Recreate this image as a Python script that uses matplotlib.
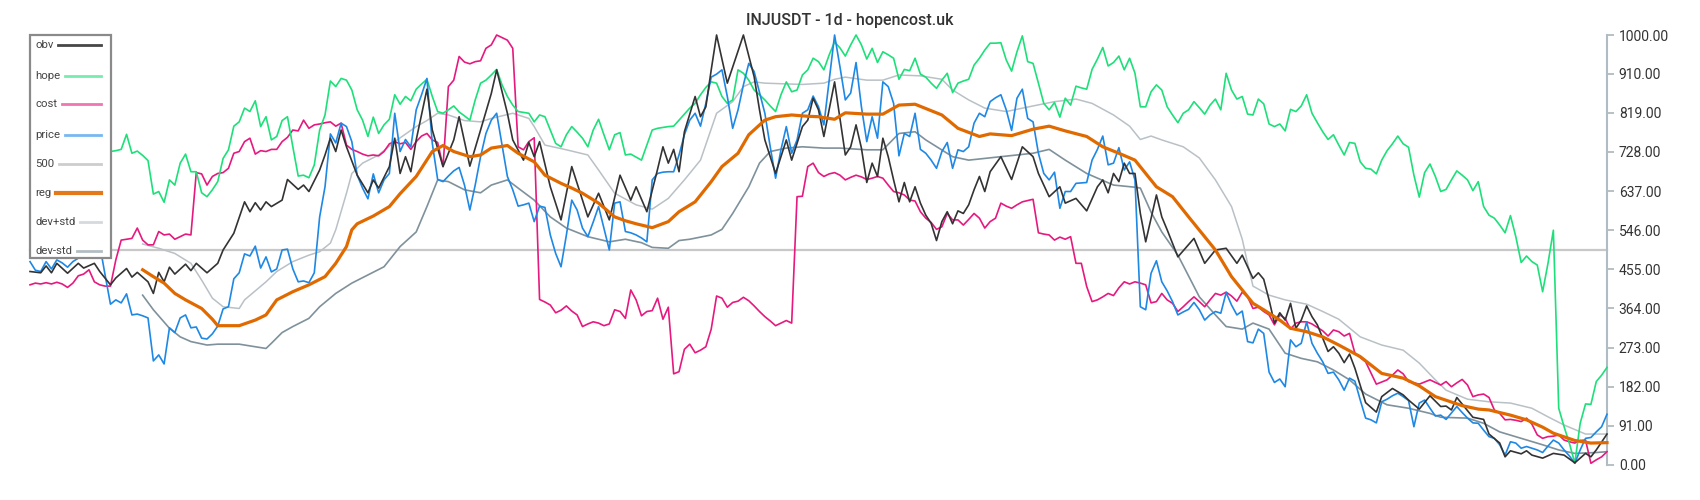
import matplotlib
matplotlib.use('Agg')
import matplotlib.pyplot as plt
from matplotlib.patches import Rectangle
from matplotlib.lines import Line2D
import numpy as np

plt.rcParams['font.family'] = ['Roboto', 'DejaVu Sans']

title = "INJUSDT - 1d - hopencost.uk"
y_ticks = [0, 91, 182, 273, 364, 455, 546, 637, 728, 819, 910, 1000]
level = 500

# daily series, one value per day
price = [
    473, 453, 450, 473, 456, 477, 470, 460, 473, 481,
    484, 488, 500, 512, 442, 374, 384, 377, 398, 349,
    351, 347, 342, 242, 256, 235, 319, 308, 342, 349,
    319, 321, 295, 293, 305, 323, 363, 368, 433, 447,
    491, 486, 509, 458, 484, 449, 456, 500, 502, 456,
    426, 428, 424, 447, 577, 647, 770, 749, 795, 787,
    752, 674, 644, 619, 677, 633, 663, 678, 818, 729,
    757, 740, 826, 861, 899, 748, 664, 659, 672, 684,
    692, 651, 593, 651, 717, 771, 802, 818, 744, 671,
    640, 602, 605, 609, 566, 602, 599, 535, 492, 461,
    535, 616, 593, 551, 531, 565, 601, 551, 500, 609,
    612, 543, 540, 535, 528, 519, 663, 678, 681, 682,
    682, 721, 768, 802, 818, 788, 841, 902, 909, 919,
    857, 783, 826, 884, 934, 915, 867, 818, 740, 667,
    733, 787, 725, 756, 818, 826, 858, 833, 791, 895,
    1000, 926, 849, 865, 936, 833, 752, 810, 760, 891,
    880, 841, 719, 771, 764, 818, 734, 725, 709, 690,
    729, 750, 690, 733, 729, 740, 795, 818, 810, 845,
    854, 861, 826, 778, 853, 874, 806, 798, 725, 678,
    663, 681, 597, 636, 636, 655, 656, 657, 709, 734,
    765, 698, 702, 738, 686, 705, 663, 368, 361, 446,
    475, 426, 405, 380, 349, 356, 362, 378, 361, 337,
    349, 357, 353, 401, 372, 349, 358, 287, 284, 316,
    306, 216, 192, 200, 182, 291, 275, 283, 333, 283,
    260, 240, 213, 216, 198, 174, 202, 195, 151, 109,
    105, 98, 147, 153, 161, 167, 159, 150, 89, 144,
    151, 132, 114, 116, 106, 121, 136, 122, 109, 98,
    97, 81, 66, 62, 47, 23, 54, 51, 39, 43,
    39, 35, 29, 44, 58, 51, 35, 21, 4, 35,
    62, 64, 77, 89, 118,
]

hope = [
    690, 700, 680, 710, 720, 700, 690, 720, 730, 710,
    700, 720, 740, 730, 720, 729, 731, 734, 769, 725,
    730, 720, 708, 630, 636, 611, 663, 651, 702, 723,
    682, 682, 633, 624, 640, 659, 713, 733, 788, 798,
    830, 822, 847, 787, 810, 756, 764, 801, 810, 740,
    672, 674, 668, 698, 779, 814, 893, 880, 899, 895,
    872, 826, 802, 764, 809, 771, 791, 804, 861, 839,
    857, 847, 874, 886, 897, 857, 822, 818, 826, 835,
    821, 812, 802, 849, 888, 895, 907, 920, 884, 857,
    837, 822, 820, 818, 798, 814, 810, 779, 748, 740,
    768, 787, 774, 760, 740, 779, 804, 768, 733, 768,
    773, 721, 723, 716, 709, 744, 779, 783, 785, 787,
    788, 802, 816, 830, 841, 861, 878, 891, 888, 857,
    841, 849, 919, 911, 895, 872, 861, 849, 835, 822,
    861, 891, 868, 872, 907, 919, 946, 938, 919, 954,
    984, 970, 951, 977, 1000, 977, 944, 969, 936, 961,
    954, 946, 897, 920, 917, 946, 909, 902, 888, 876,
    895, 911, 866, 888, 893, 897, 930, 946, 965, 981,
    981, 982, 942, 916, 961, 998, 938, 934, 888, 841,
    826, 843, 809, 853, 837, 881, 877, 874, 920, 944,
    971, 928, 936, 951, 919, 946, 911, 833, 833, 868,
    884, 872, 833, 814, 796, 818, 826, 845, 831, 816,
    837, 851, 826, 911, 872, 851, 857, 816, 814, 851,
    840, 793, 787, 793, 777, 827, 822, 835, 861, 818,
    796, 775, 757, 768, 744, 721, 750, 748, 705, 690,
    688, 677, 709, 731, 747, 765, 747, 739, 674, 623,
    680, 700, 671, 636, 641, 663, 684, 674, 663, 638,
    659, 601, 581, 574, 558, 540, 580, 531, 471, 486,
    473, 465, 403, 469, 546, 132, 89, 50, 4, 97,
    142, 141, 194, 209, 227,
]

cost = [
    419, 423, 421, 424, 421, 425, 421, 413, 423, 440,
    444, 454, 426, 419, 416, 416, 477, 523, 525, 527,
    551, 523, 512, 512, 543, 535, 537, 525, 531, 537,
    535, 680, 677, 651, 671, 678, 680, 690, 725, 729,
    752, 760, 723, 731, 729, 734, 734, 752, 762, 779,
    777, 802, 783, 791, 793, 796, 798, 788, 795, 744,
    734, 729, 723, 719, 721, 719, 729, 747, 752, 747,
    750, 734, 752, 765, 771, 756, 750, 694, 880, 895,
    950, 937, 933, 938, 940, 969, 977, 1000, 994, 988,
    969, 740, 733, 752, 761, 385, 379, 372, 354, 360,
    370, 358, 349, 322, 328, 333, 330, 324, 328, 361,
    357, 341, 407, 384, 347, 357, 359, 388, 339, 367,
    212, 217, 269, 281, 261, 267, 275, 316, 393, 388,
    367, 378, 381, 390, 382, 370, 357, 345, 335, 324,
    330, 336, 330, 624, 625, 694, 702, 680, 671, 677,
    680, 674, 663, 669, 674, 670, 664, 667, 671, 667,
    651, 636, 633, 628, 616, 614, 589, 574, 564, 548,
    554, 585, 570, 570, 558, 571, 585, 574, 551, 566,
    574, 609, 602, 597, 605, 612, 615, 618, 540, 537,
    535, 523, 530, 525, 531, 469, 469, 415, 380, 384,
    391, 399, 394, 412, 426, 421, 426, 423, 419, 377,
    380, 399, 384, 376, 357, 368, 380, 391, 380, 368,
    384, 399, 395, 402, 393, 381, 402, 391, 364, 367,
    357, 349, 326, 349, 341, 316, 330, 333, 333, 328,
    320, 312, 300, 314, 310, 300, 306, 260, 250, 240,
    214, 188, 193, 198, 209, 221, 212, 194, 191, 188,
    193, 198, 192, 186, 194, 182, 191, 199, 186, 159,
    163, 165, 157, 128, 120, 105, 106, 104, 101, 109,
    95, 70, 62, 66, 67, 70, 58, 54, 51, 57,
    58, 4, 12, 19, 31,
]

# obv read at its turning points
obv_day = [0, 2, 3, 4, 5, 7, 9, 10, 12, 13, 15, 16, 18, 19, 20, 22, 23, 24, 25, 26,
           27, 29, 30, 31, 33, 35, 36, 38, 40, 41, 42, 43, 44, 45, 47, 48, 50, 51, 52, 54,
           55, 56, 57, 58, 59, 61, 63, 64, 65, 67, 68, 69, 70, 71, 72, 74, 75, 77, 79, 80,
           82, 84, 86, 87, 89, 90, 92, 93, 94, 95, 97, 99, 101, 103, 104, 106, 108, 110, 112, 113,
           115, 117, 118, 119, 120, 121, 122, 124, 125, 126, 127, 128, 130, 133, 135, 136, 137, 139, 141, 142,
           144, 145, 146, 147, 148, 150, 152, 153, 154, 155, 156, 157, 158, 159, 160, 161, 162, 163, 164, 165,
           166, 167, 168, 169, 170, 171, 172, 173, 174, 175, 176, 177, 178, 179, 181, 183, 185, 187, 188, 190,
           192, 193, 195, 197, 199, 200, 201, 202, 203, 204, 205, 206, 207, 208, 210, 211, 212, 214, 217, 219,
           221, 223, 225, 226, 228, 229, 230, 231, 232, 233, 234, 235, 236, 237, 238, 239, 240, 242, 243, 244,
           245, 246, 247, 249, 251, 252, 254, 256, 257, 259, 261, 263, 264, 265, 266, 269, 271, 272, 274, 275,
           276, 278, 279, 280, 282, 284, 286, 288, 290, 291, 292, 294]
obv_val = [450, 447, 463, 447, 469, 446, 469, 458, 469, 450, 419, 435, 457, 437, 448, 426, 399, 448, 426, 460,
           444, 467, 452, 469, 447, 469, 500, 539, 612, 589, 610, 593, 612, 601, 616, 664, 641, 651, 636, 686,
           721, 760, 729, 779, 740, 674, 633, 663, 644, 694, 760, 678, 717, 682, 756, 874, 779, 694, 756, 810,
           695, 779, 864, 919, 818, 756, 709, 750, 717, 752, 647, 570, 694, 616, 577, 632, 570, 674, 616, 647,
           589, 688, 740, 702, 734, 682, 775, 857, 810, 833, 919, 1000, 888, 1000, 903, 826, 756, 678, 756, 709,
           787, 802, 853, 826, 764, 891, 721, 740, 791, 737, 657, 702, 671, 760, 717, 663, 612, 657, 612, 647,
           609, 581, 562, 522, 566, 589, 561, 591, 585, 605, 640, 671, 636, 682, 717, 664, 740, 717, 678, 624,
           647, 609, 620, 591, 647, 663, 633, 678, 659, 702, 678, 678, 585, 519, 628, 577, 547, 484, 527, 469,
           500, 504, 469, 488, 434, 447, 432, 384, 330, 354, 337, 376, 318, 337, 370, 345, 326, 264, 275, 260,
           238, 258, 225, 145, 123, 159, 178, 163, 151, 130, 161, 136, 137, 128, 157, 111, 106, 72, 51, 19,
           33, 26, 33, 23, 16, 27, 23, 5, 27, 19, 35, 72]

reg_day = [21, 23, 25, 27, 29, 32, 34, 35, 39, 42, 44, 46, 49, 52, 55, 57, 59, 60, 61, 64,
           67, 69, 72, 75, 77, 79, 82, 84, 86, 89, 91, 94, 96, 99, 101, 103, 106, 109, 111, 113,
           116, 119, 121, 124, 127, 129, 132, 134, 137, 139, 142, 145, 147, 150, 152, 156, 159, 162, 165, 170,
           173, 177, 179, 183, 187, 190, 193, 197, 200, 203, 206, 210, 213, 216, 221, 224, 228, 230, 233, 235,
           238, 241, 244, 248, 252, 256, 259, 262, 267, 270, 272, 276, 279, 282, 284, 288, 291, 294]
reg_val = [454, 438, 423, 399, 384, 364, 339, 324, 324, 337, 349, 384, 403, 419, 438, 469, 508, 547, 561, 579,
           601, 631, 671, 729, 743, 729, 717, 721, 737, 743, 725, 705, 674, 655, 644, 632, 609, 577, 568, 561,
           552, 566, 589, 612, 659, 694, 725, 768, 802, 810, 814, 811, 810, 804, 819, 816, 816, 837, 839, 814,
           783, 764, 770, 766, 781, 788, 777, 764, 740, 725, 709, 647, 624, 577, 500, 438, 376, 361, 337, 318,
           310, 298, 279, 252, 213, 202, 184, 159, 138, 130, 128, 116, 105, 88, 74, 57, 51, 52]

devp_day = [21, 24, 27, 30, 32, 34, 36, 39, 40, 44, 46, 49, 52, 54, 56, 57, 59, 60, 62, 65,
            68, 72, 74, 76, 78, 81, 84, 86, 90, 93, 94, 96, 100, 104, 106, 109, 113, 116, 119, 122,
            125, 128, 131, 133, 135, 137, 144, 148, 150, 152, 156, 159, 162, 166, 170, 172, 175, 178, 182, 187,
            191, 195, 198, 202, 205, 207, 209, 211, 215, 218, 221, 224, 226, 227, 228, 231, 234, 238, 241, 244,
            248, 252, 256, 259, 262, 264, 268, 272, 276, 280, 283, 286, 290, 294]
devp_val = [514, 504, 492, 469, 430, 388, 368, 364, 384, 426, 450, 473, 488, 496, 516, 547, 632, 678, 702, 721,
            752, 787, 801, 818, 814, 801, 798, 806, 818, 806, 787, 744, 733, 721, 686, 632, 605, 595, 620, 663,
            709, 818, 845, 880, 891, 888, 885, 888, 897, 902, 895, 895, 907, 905, 897, 872, 849, 830, 822, 835,
            845, 851, 841, 814, 788, 757, 765, 756, 740, 714, 663, 601, 525, 469, 416, 395, 384, 374, 357, 339,
            298, 279, 267, 237, 198, 174, 153, 147, 144, 132, 112, 93, 72, 72]

devm_day = [21, 23, 26, 28, 30, 33, 35, 39, 44, 45, 47, 49, 52, 54, 57, 60, 63, 66, 69, 72,
            74, 76, 78, 81, 84, 86, 89, 91, 94, 97, 100, 104, 108, 111, 114, 116, 119, 121, 123, 127,
            129, 131, 134, 136, 138, 141, 144, 148, 151, 156, 159, 162, 165, 167, 172, 175, 181, 187, 190, 193,
            197, 202, 206, 207, 209, 211, 214, 218, 221, 223, 226, 228, 231, 234, 237, 240, 243, 246, 249, 253,
            257, 261, 263, 268, 271, 274, 278, 282, 285, 288, 292, 294]
devm_val = [395, 361, 318, 298, 287, 279, 281, 281, 271, 283, 308, 322, 341, 368, 399, 423, 442, 461, 508, 542,
            601, 663, 659, 640, 633, 651, 663, 644, 616, 577, 551, 531, 519, 525, 517, 506, 504, 522, 525, 535,
            548, 585, 647, 702, 729, 737, 740, 737, 737, 733, 733, 771, 775, 756, 717, 709, 717, 725, 734, 709,
            678, 651, 646, 644, 588, 542, 488, 391, 349, 322, 316, 330, 316, 260, 248, 240, 221, 198, 165, 140,
            132, 120, 111, 109, 97, 77, 62, 47, 35, 27, 29, 31]

days = np.arange(len(price))

W, H = 1700, 500
fig = plt.figure(figsize=(17, 5), dpi=100)
ax = fig.add_axes([30 / W, 35 / H, 1577 / W, 430 / H])

colors = {
    'obv': '#333333', 'hope': '#1de07a', 'cost': '#e6197e', 'price': '#1e88e5',
    '500': '#c8c8c8', 'reg': '#e06a00', 'dev+std': '#b9c1c6', 'dev-std': '#7f919b',
}

ax.axhline(level, color=colors['500'], lw=1.6, zorder=1)
ax.plot(devp_day, devp_val, color=colors['dev+std'], lw=1.1, zorder=2)
ax.plot(devm_day, devm_val, color=colors['dev-std'], lw=1.2, zorder=2)
ax.plot(days, cost, color=colors['cost'], lw=1.2, zorder=3)
ax.plot(days, hope, color=colors['hope'], lw=1.2, zorder=3)
ax.plot(days, price, color=colors['price'], lw=1.2, zorder=4)
ax.plot(obv_day, obv_val, color=colors['obv'], lw=1.2, zorder=5)
ax.plot(reg_day, reg_val, color=colors['reg'], lw=2.3, zorder=6)

ax.set_xlim(0, len(price) - 1)
ax.set_ylim(0, 1000)
ax.set_xticks([])
ax.yaxis.tick_right()
ax.set_yticks(y_ticks)
ax.set_yticklabels([f"{v:.2f}" for v in y_ticks])
ax.tick_params(axis='y', colors='#b0bcc2', length=5, width=1.3, pad=3.5,
               labelsize=10, labelcolor='#333333')
for side in ['top', 'left', 'bottom']:
    ax.spines[side].set_visible(False)
ax.spines['right'].set_color('#b0bcc2')
ax.spines['right'].set_linewidth(1.5)
for ln in ax.lines:
    ln.set_clip_on(False)

fig.text(0.5, 1 - 20 / H, title, ha='center', va='center', fontsize=11.5,
         fontweight='medium', color='#333333')

# legend box, label on the left and a line sample on the right
fig.add_artist(Rectangle((30 / W, 1 - 258 / H), 81 / W, 223 / H, transform=fig.transFigure,
                         facecolor='white', edgecolor='#8a8a8a', lw=1.6, zorder=10))
labels = ['obv', 'hope', 'cost', 'price', '500', 'reg', 'dev+std', 'dev-std']
label_y = [45, 76, 104, 135, 164, 193, 222, 251]
fig.canvas.draw()
renderer = fig.canvas.get_renderer()
for name, ypx in zip(labels, label_y):
    t = fig.text(35 / W, 1 - ypx / H, name, ha='left', va='center', fontsize=8.2,
                 color='#444444', zorder=11)
    x1 = t.get_window_extent(renderer).x1 + 5
    fig.add_artist(Line2D([x1 / W, 100.5 / W], [1 - ypx / H] * 2, transform=fig.transFigure,
                          color=colors[name], lw=3 if name == 'reg' else 2,
                          alpha=0.9 if name in ('reg', 'obv', '500') else 0.6, zorder=11))

fig.savefig('out.png', dpi=100)
